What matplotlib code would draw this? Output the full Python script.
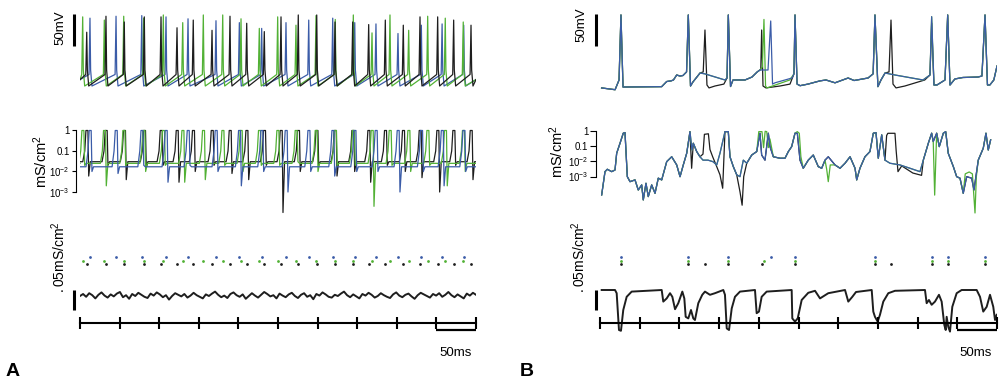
import numpy as np
import matplotlib.pyplot as plt

plt.rcParams['font.family'] = ['Liberation Sans', 'DejaVu Sans']
plt.rcParams['mathtext.fontset'] = 'custom'
plt.rcParams['mathtext.rm'] = 'Liberation Sans'
plt.rcParams['mathtext.it'] = 'Liberation Sans:italic'

K = '#1e1e1e'
G = '#52b135'
B = '#3b5ca8'

# ---------------- panel A ----------------
# spike times (ms) and spike peaks (mV) for the three cells
a_spk_k = [8.5, 32.8, 55.9, 81.2, 102.3, 122.5, 143.0, 166.7, 189.4, 210.5, 232.7, 253.8,
           275.6, 298.9, 322.0, 344.3, 364.5, 385.5, 408.2, 429.3, 451.6, 471.8, 493.7]
a_pk_k = [14, 39, 30, 38, 38, 21, 33, 17, 39, 28, 15, 38, 41, 41, 30, 30, 26, 33, 25, 38, 38, 33, 25]
a_spk_g = [3.4, 30.7, 55.2, 80.4, 105.2, 129.7, 155.7, 180.2, 203.3, 226.4, 249.6, 272.7,
           298.0, 322.3, 345.1, 368.7, 391.4, 415.0, 439.0, 461.2, 483.9]
a_pk_g = [38, 33, 39, 36, 41, 29, 41, 41, 35, 20, 38, 25, 40, 34, 41, 13, 41, 17, 39, 36, 30]
a_spk_b = [12.6, 45.5, 78.0, 108.6, 136.4, 171.7, 201.2, 229.4, 260.1, 288.8, 319.1, 346.9,
           373.7, 401.5, 431.0, 457.2, 484.5]
a_pk_b = [36, 39, 40, 38, 35, 32, 29, 20, 29, 33, 36, 29, 27, 12, 25, 27, 25]

# conductance (mS/cm2): resting level and post-spike minimum per spike
a_base_k, a_base_g, a_base_b = 0.03, 0.025, 0.017
a_dip_k = [0.006, 0.02, 0.004, 0.015, 0.02, 0.003, 0.01, 0.02, 0.008, 0.004, 0.02, 1e-4,
           0.01, 0.02, 0.006, 0.01, 0.003, 0.02, 0.01, 0.005, 0.001, 0.02, 0.004]
a_dip_g = [0.02, 0.002, 0.02, 0.01, 0.02, 0.003, 0.004, 0.02, 0.01, 0.02, 0.02, 0.03,
           0.01, 0.02, 0.02, 2e-4, 0.02, 0.01, 0.02, 0.002, 0.01]
a_dip_b = [0.01, 0.008, 0.02, 0.003, 0.02, 0.01, 0.002, 0.01, 0.001, 0.01, 0.006, 0.01,
           0.01, 0.001, 0.01, 0.002, 0.01]

# noisy input conductance (mS/cm2), 0-500 ms
a_noise = [90, 95, 88, 97, 92, 84, 93, 99, 91, 86, 94, 89, 96, 100, 87, 92, 83, 95, 90, 98,
           93, 88, 85, 96, 91, 99, 94, 87, 92, 81, 90, 97, 93, 89, 95, 86, 91, 98, 92, 88,
           84, 94, 90, 96, 101, 93, 87, 91, 85, 95, 99, 92, 88, 94, 83, 90, 97, 91, 86, 93,
           100, 95, 89, 92, 84, 96, 91, 87, 94, 98, 90, 85, 93, 97, 88, 92, 82, 95, 91, 99,
           94, 88, 86, 93, 90, 96, 101, 92, 87, 94, 89, 84, 95, 91, 98, 93, 86, 90, 97, 92,
           88, 85, 94, 99, 91, 87, 93, 96, 89, 83, 92, 98, 94, 90, 86, 95, 91, 97, 88, 93,
           100, 92, 87, 94, 89, 84, 96, 91, 98, 93]
a_noise = [v / 1000 for v in a_noise]

# ---------------- panel B ----------------
b_spk_k = [26.4, 111.2, 132.2, 161.6, 203.6, 245.6, 346.3, 366.5, 417.7, 437.9, 484.9]
b_spk_g = [26.4, 111.2, 161.6, 206.5, 245.6, 346.3, 417.7, 437.9, 484.9]
b_spk_b = [26.4, 111.2, 161.6, 215.0, 245.6, 346.3, 417.7, 437.9, 484.9]

# membrane potential (ms, mV); blue trace, black/green differ in a few stretches
b_v_b = [(2, -73), (19, -75.8), (24, -60.6), (26.4, 41), (29, -71.6), (77.7, -71), (84, -63),
         (89.4, -62), (92.5, -60.6), (96.6, -52.8), (100.7, -54.4), (104.5, -53.6), (109, -48),
         (111.2, 41), (114, -70), (117, -63.8), (126, -49.7), (132, -51), (157.4, -60.6),
         (160, -57.5), (161.6, 41), (164.4, -70.8), (167.5, -60.6), (182.6, -60.6), (191.4, -56),
         (198, -48), (201.5, -45), (211.6, -45), (215, 31.6), (217.3, -67), (220.4, -65),
         (241.8, -57.5), (244.3, -51), (245.6, 41), (248.2, -67), (252, -69.5), (262, -67),
         (277, -62), (284.6, -60.6), (296, -65), (312.5, -57.5), (320, -61.4), (337.6, -57.5),
         (344, -51), (346.3, 41), (350, -71), (353.9, -60.6), (359, -49.7), (371.5, -52.8),
         (406.8, -60.6), (415.6, -52.8), (417.7, 38.3), (420.6, -68.4), (424.4, -68.4),
         (434.5, -60.6), (437.9, 41), (440.8, -68.4), (447, -59), (457, -56.7), (476, -56),
         (481, -54.4), (484.9, 41), (488, -68.4), (491, -68.4), (496, -60.6), (500, -38.8)]
b_v_k_patches = [
    [(126, -49.7), (130, -48), (132.2, 17.5), (134.7, -68.4), (137.3, -73), (144.8, -70),
     (156, -67), (160, -57.5)],
    [(198, -48), (202.5, -44), (203.6, 17.5), (205.3, -70), (209, -73), (226.7, -70),
     (239.3, -67), (244.3, -51)],
    [(359, -49.7), (364, -48), (366.5, 33), (369, -67), (372.8, -73), (384, -70), (409, -60.6),
     (415.6, -52.8), (417.7, 28.4), (420.6, -68.4)]]
b_v_g_patches = [
    [(198, -48), (201.5, -45), (204.5, -40), (206.5, 34), (208.5, -70), (210.3, -73),
     (239, -60.6), (244.3, -51)]]

# conductance (ms, mS/cm2)
b_g_b = [(2.1, 6.2e-5), (6.3, 2.1e-3), (9.2, 3.0e-3), (14.7, 2.1e-3), (18.9, 2.7e-3), (21.0, 0.034),
         (25.2, 0.155), (29.3, 0.71), (31.5, 0.78), (34.4, 9.8e-4), (37.8, 4.6e-4), (44.1, 6.0e-4),
         (48.2, 1.3e-4), (52.5, 2.8e-4), (54.5, 2.9e-5), (57.9, 3.6e-4), (60.8, 4.8e-5),
         (65.1, 2.8e-4), (69.3, 7.9e-5), (73.4, 7.8e-4), (77.7, 6.0e-4), (84.0, 9.5e-3),
         (90.3, 0.020), (96.6, 5.8e-3), (100.8, 9.8e-4), (104.9, 5.8e-3), (109.2, 0.034),
         (113.3, 0.9), (115.9, 0.056), (117.5, 0.155), (121.8, 0.044), (125.9, 0.020),
         (129.7, 0.012), (136.0, 0.012), (142.3, 9.5e-3), (147.0, 5.8e-3), (151.1, 0.034),
         (157.4, 0.9), (161.6, 0.9), (163.7, 0.020), (167.9, 4.5e-3), (172.2, 1.3e-3),
         (176.3, 9.8e-4), (180.5, 0.012), (184.8, 7.5e-3), (191.1, 0.026), (197.4, 0.044),
         (201.5, 0.71), (203.6, 0.026), (207.8, 0.012), (212.0, 0.71), (214.1, 0.093),
         (218.3, 0.020), (226.7, 0.016), (233.0, 0.016), (237.2, 0.044), (241.4, 0.093),
         (245.6, 0.71), (248.5, 0.71), (251.9, 0.012), (256.0, 3.5e-3), (262.3, 0.012),
         (268.6, 0.026), (274.9, 4.5e-3), (279.2, 3.5e-3), (283.4, 0.012), (287.5, 0.020),
         (296.0, 5.8e-3), (302.3, 3.5e-3), (308.6, 7.5e-3), (314.9, 0.020), (321.2, 3.5e-3),
         (323.3, 6.0e-4), (327.4, 3.5e-3), (333.7, 0.020), (340.0, 0.044), (344.2, 0.71),
         (347.6, 0.78), (350.5, 0.016), (354.8, 0.55), (358.9, 0.012), (365.2, 7.5e-3),
         (377.8, 5.8e-3), (390.4, 3.5e-3), (403.0, 2.1e-3), (407.2, 0.012), (413.5, 0.155),
         (417.7, 0.71), (419.7, 0.20), (424.0, 0.71), (427.3, 0.093), (432.4, 0.71), (435.4, 0.9),
         (438.6, 0.034), (445.0, 4.5e-3), (449.2, 9.8e-4), (453.4, 7.8e-4), (457.5, 7.9e-5),
         (461.8, 9.8e-4), (468.1, 7.8e-4), (471.0, 1.3e-4), (476.4, 0.012), (482.7, 0.073),
         (486.1, 0.71), (489.0, 0.056), (492.0, 0.26)]
b_g_k_patches = [
    [(113.3, 0.9), (115.4, 3.5e-3), (117.5, 0.155), (121.8, 0.044), (125.9, 0.02), (129.7, 0.03),
     (131.5, 0.6), (136.5, 0.65), (138.5, 0.06), (141.9, 0.02), (147, 4.5e-3), (151.1, 1.3e-3),
     (154.5, 1.7e-4), (157.4, 0.9)],
    [(172.2, 1.3e-3), (176.3, 1e-4), (179, 1.3e-5), (181, 1e-3), (184.8, 7.5e-3)],
    [(358.9, 0.012), (361, 0.5), (362.5, 0.7), (371.5, 0.7), (373, 0.05), (375.3, 2.1e-3),
     (380, 5e-3), (394, 1.7e-3), (405, 1.2e-3), (407.2, 0.012)]]
b_g_g_patches = [
    [(197.4, 0.044), (200, 0.9), (204, 0.9), (206, 0.08), (208, 0.95), (210, 0.9), (212, 0.08),
     (214, 0.3), (218.3, 0.02)],
    [(245.6, 0.71), (248.5, 0.9), (251, 0.7), (253, 0.02), (256, 3.5e-3)],
    [(283.4, 0.012), (285.5, 3e-3), (287.5, 4.6e-4), (290, 5.8e-3), (296, 5.8e-3)],
    [(417.7, 0.71), (419.7, 0.2), (421.5, 6e-5), (424, 0.71)],
    [(457.5, 7.9e-5), (460, 1.5e-3), (465, 2e-3), (469, 1.5e-3), (472.3, 4e-6), (474, 1e-3),
     (476.4, 0.012)]]

# summed synaptic conductance (ms, mS/cm2)
b_syn = [(2.1, 0.105), (18.9, 0.105), (21.0, 0.097), (23.9, 0.005), (26.4, 0.003), (29.3, 0.055),
         (33.6, 0.088), (39.9, 0.101), (77.7, 0.105), (79.7, 0.076), (84.0, 0.084), (88.2, 0.097),
         (91.1, 0.088), (94.5, 0.057), (98.6, 0.072), (103.7, 0.101), (106.2, 0.084),
         (107.9, 0.038), (111.2, 0.034), (114.6, 0.055), (117.5, 0.034), (119.6, 0.030),
         (123.8, 0.072), (128.8, 0.093), (132.2, 0.101), (138.5, 0.093), (144.8, 0.097),
         (155.3, 0.105), (157.4, 0.093), (159.6, 0.009), (162.5, 0.005), (165.9, 0.059),
         (170.0, 0.088), (176.3, 0.101), (195.2, 0.105), (197.3, 0.047), (200.2, 0.051),
         (203.6, 0.088), (209.9, 0.101), (241.4, 0.105), (242.2, 0.034), (245.6, 0.026),
         (249.0, 0.034), (254.0, 0.080), (262.3, 0.098), (270.8, 0.103), (277.1, 0.084),
         (287.5, 0.097), (308.6, 0.105), (312.7, 0.076), (317.8, 0.088), (322.4, 0.100),
         (342.2, 0.105), (344.2, 0.051), (346.3, 0.038), (349.7, 0.026), (352.6, 0.043),
         (356.8, 0.076), (363.1, 0.097), (371.5, 0.103), (409.3, 0.105), (411.4, 0.072),
         (414.3, 0.080), (417.7, 0.068), (421.9, 0.076), (426.9, 0.093), (430.3, 0.076),
         (433.6, 0.018), (435.4, 0.005), (436.6, 0.038), (438.6, 0.013), (440.8, 0.001),
         (443.7, 0.063), (449.2, 0.097), (455.5, 0.105), (474.4, 0.105), (478.6, 0.088),
         (482.7, 0.051), (487.0, 0.063), (491.2, 0.093), (495.3, 0.063), (497.5, 0.030),
         (499.6, 0.043)]


def splice(base, patches):
    out = list(base)
    for p in patches:
        out = [q for q in out if q[0] < p[0][0]] + p + [q for q in out if q[0] > p[-1][0]]
    return out


def spike_train(times, peaks):
    t, v = [0.0], [-60.0]
    for ts, pk in zip(times, peaks):
        t += [ts - 1.2, ts, ts + 0.8, ts + 2.5]
        v += [-52, pk, -45, -70]
    t.append(500.0)
    v.append(-60.0)
    return t, v


def cond_train(times, dips, base):
    t, g = [0.0], [base]
    for ts, d in zip(times, dips):
        t += [ts - 5, ts - 2.5, ts - 1, ts + 1.5, ts + 2.5, ts + 4.5]
        g += [base, 0.1, 1.0, 1.0, d, base]
    t.append(500.0)
    g.append(base)
    return t, g


W, H = 1000, 383
fig = plt.figure(figsize=(W / 100, H / 100), dpi=100)


def px_axes(x0, y0, x1, y1):
    ax = fig.add_axes([x0 / W, 1 - y1 / H, (x1 - x0) / W, (y1 - y0) / H])
    ax.patch.set_visible(False)
    return ax


def label(x, y, s, **kw):
    fig.text(x / W, 1 - y / H, s, ha='center', va='center', **kw)


def volt_axes(x0, x1, sbar_x):
    ax = px_axes(x0, 10, x1, 95)
    ax.set_xlim(0, 500)
    ax.set_ylim(-84.06, 48.75)
    ax.axis('off')
    ax.plot([sbar_x] * 2, [-7.5, 42.5], color='k', lw=2.2, clip_on=False, solid_capstyle='butt')
    return ax


def cond_axes(x0, x1, top_log, bot_log, tick_len):
    ax = px_axes(x0, 120, x1, 220)
    ax.set_xlim(0, 500)
    ax.set_yscale('log')
    ax.set_ylim(10 ** bot_log, 10 ** top_log)
    for s in ['top', 'right', 'bottom']:
        ax.spines[s].set_visible(False)
    ax.spines['left'].set_position(('outward', 3))
    ax.spines['left'].set_bounds(1e-3, 1)
    ax.spines['left'].set_linewidth(0.8)
    ax.set_xticks([])
    ax.set_yticks([1e-3, 1e-2, 0.1, 1])
    ax.set_yticklabels([r'$\mathregular{10^{-3}}$', r'$\mathregular{10^{-2}}$', '0.1', '1'])
    ax.yaxis.set_minor_locator(plt.NullLocator())
    ax.tick_params(axis='y', length=tick_len, width=0.8, pad=1.5, labelsize=7)
    return ax


def bottom_axes(x0, x1, sbar_x):
    ax = px_axes(x0, 280, x1, 340)
    ax.set_xlim(0, 500)
    ax.set_ylim(-0.02, 0.13)
    ax.axis('off')
    ax.plot([sbar_x] * 2, [0.055, 0.105], color='k', lw=2.2, clip_on=False, solid_capstyle='butt')
    return ax


def raster_axes(x0, x1, spikes):
    ax = px_axes(x0, 250, x1, 270)
    ax.set_xlim(0, 500)
    ax.set_ylim(-1.714, 4)
    ax.axis('off')
    for row, (sp, c) in enumerate(zip(spikes, [K, G, B])):
        ax.plot(sp, [row] * len(sp), 'o', color=c, ms=2.0, mec='none')
    return ax


def time_bar(x0, x1):
    ax = px_axes(x0, 315, x1, 335)
    ax.set_xlim(0, 500)
    ax.set_ylim(0, 1)
    for s in ['top', 'left', 'right']:
        ax.spines[s].set_visible(False)
    ax.spines['bottom'].set_position(('data', 0.6))
    ax.spines['bottom'].set_linewidth(1.5)
    ax.set_xticks(np.arange(0, 501, 50))
    ax.set_yticks([])
    ax.tick_params(axis='x', direction='inout', length=9, width=1.5, labelbottom=False)
    ax.plot([450, 500], [0.275, 0.275], color='k', lw=1.6, clip_on=False, solid_capstyle='butt')
    return ax


# ---- panel A
ax = volt_axes(80, 476, -7.6)
for sp, pk, c in [(a_spk_b, a_pk_b, B), (a_spk_g, a_pk_g, G), (a_spk_k, a_pk_k, K)]:
    t, v = spike_train(sp, pk)
    ax.plot(t, v, color=c, lw=0.9)

ax = cond_axes(80, 476, 0.512, -4.366, 3)
for sp, dp, bs, c in [(a_spk_k, a_dip_k, a_base_k, K), (a_spk_g, a_dip_g, a_base_g, G),
                      (a_spk_b, a_dip_b, a_base_b, B)]:
    t, g = cond_train(sp, dp, bs)
    ax.plot(t, g, color=c, lw=0.9)

raster_axes(80, 476, [a_spk_k, a_spk_g, a_spk_b])
ax = bottom_axes(80, 476, -7.6)
ax.plot(np.linspace(0, 500, len(a_noise)), a_noise, color=K, lw=1.4)
time_bar(80, 476)

# ---- panel B
ax = volt_axes(600, 997, -5.0)
for tr, c in [(splice(b_v_b, b_v_k_patches), K), (splice(b_v_b, b_v_g_patches), G), (b_v_b, B)]:
    ax.plot([p[0] for p in tr], [p[1] for p in tr], color=c, lw=0.9)

ax = cond_axes(600, 997, 0.72, -5.86, 4)
for tr, c in [(splice(b_g_b, b_g_k_patches), K), (splice(b_g_b, b_g_g_patches), G), (b_g_b, B)]:
    ax.plot([p[0] for p in tr], [p[1] for p in tr], color=c, lw=0.9)

raster_axes(600, 997, [b_spk_k, b_spk_g, b_spk_b])
ax = bottom_axes(600, 997, -5.0)
ax.plot([p[0] for p in b_syn], [p[1] for p in b_syn], color=K, lw=1.4)
time_bar(600, 997)

# ---- text
label(60, 28, '50mV', rotation=90, fontsize=9.5)
label(581, 25, '50mV', rotation=90, fontsize=9.5)
label(41, 162, r'$\mathregular{mS/cm^2}$', rotation=90, fontsize=10.5)
label(557, 152, r'$\mathregular{mS/cm^2}$', rotation=90, fontsize=10.5)
for dx in [0, 520]:
    label(59 + dx, 257, r'$\mathregular{.05mS/cm^2}$', rotation=90, fontsize=10)
    label(456 + dx, 353, '50ms', fontsize=9.5)
label(13, 372, 'A', fontsize=14, fontweight='bold')
label(527, 372, 'B', fontsize=14, fontweight='bold')

fig.savefig('out.png', dpi=100)
